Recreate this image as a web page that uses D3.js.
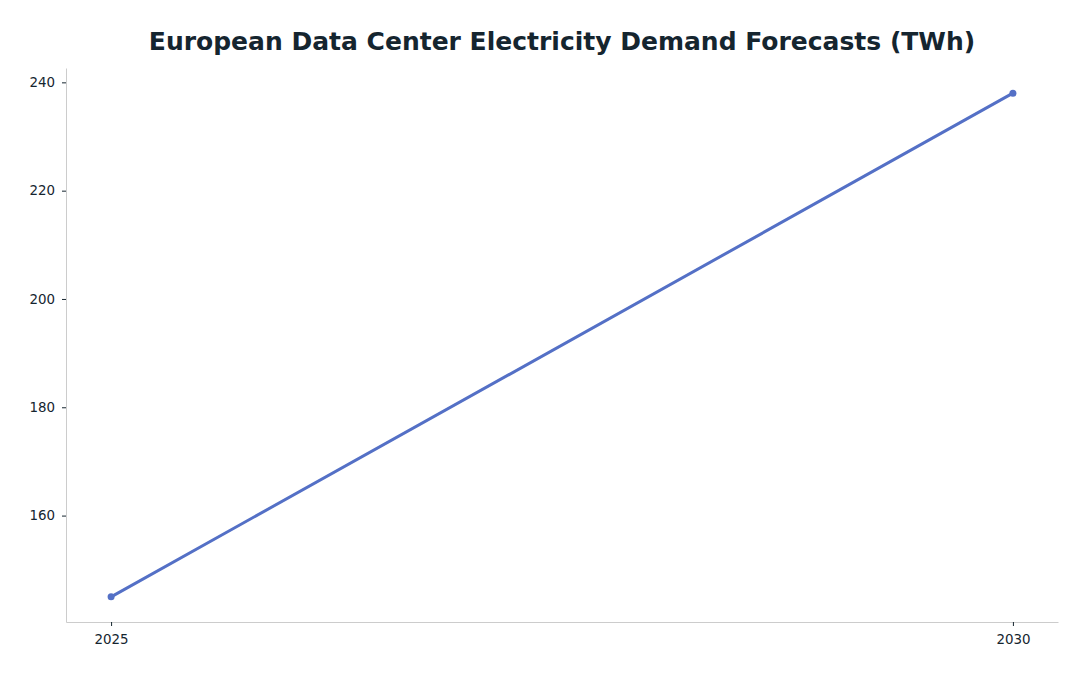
<!DOCTYPE html>
<html><head><meta charset="utf-8">
<script src="https://cdn.jsdelivr.net/npm/d3@7"></script>
<style>
html,body{margin:0;padding:0;background:#fff;}
svg{display:block;font-family:"DejaVu Sans",sans-serif;}
</style></head>
<body>
<svg id="chart" width="1088" height="676"></svg>
<script>
const years = [2025, 2030];
const demandTWh = [145, 238];
const yTicks = [160, 180, 200, 220, 240];
const xTicks = [2025, 2030];
const titleText = "European Data Center Electricity Demand Forecasts (TWh)";

const svg = d3.select("#chart");
const mLeft = 66, mRight = 1058, mTop = 68, mBottom = 622;
const textColor = "#15252f";
const lineColor = "#5470c6";

const xPad = (years[1] - years[0]) * 0.05;
const x = d3.scaleLinear().domain([d3.min(years) - xPad, d3.max(years) + xPad]).range([mLeft, mRight]);
const yr = d3.max(demandTWh) - d3.min(demandTWh);
const y = d3.scaleLinear().domain([d3.min(demandTWh) - yr * 0.05, d3.max(demandTWh) + yr * 0.05]).range([mBottom, mTop]);

svg.append("text").attr("x", (mLeft + mRight) / 2).attr("y", 50)
  .attr("text-anchor", "middle").attr("font-size", 25).attr("font-weight", "bold")
  .attr("fill", textColor).text(titleText);

const xAxis = svg.append("g").attr("transform", `translate(0,${mBottom})`)
  .call(d3.axisBottom(x).tickValues(xTicks).tickFormat(d3.format("d")).tickSize(4).tickPadding(8).tickSizeOuter(0));
const yAxis = svg.append("g").attr("transform", `translate(${mLeft},0)`)
  .call(d3.axisLeft(y).tickValues(yTicks).tickSize(4).tickPadding(7).tickSizeOuter(0));
[xAxis, yAxis].forEach(g => {
  g.select(".domain").attr("stroke", "#cccccc").attr("stroke-width", 1);
  g.selectAll(".tick line").attr("stroke", textColor).attr("stroke-width", 1);
  g.selectAll(".tick text").attr("fill", textColor).attr("font-size", 13.4).attr("font-family", "DejaVu Sans, sans-serif");
});

const data = years.map((yv, i) => ({year: yv, value: demandTWh[i]}));
svg.append("path").datum(data)
  .attr("fill", "none").attr("stroke", lineColor).attr("stroke-width", 3)
  .attr("stroke-linecap", "round")
  .attr("d", d3.line().x(d => x(d.year)).y(d => y(d.value)));
svg.selectAll("circle.pt").data(data).enter().append("circle")
  .attr("class", "pt").attr("cx", d => x(d.year)).attr("cy", d => y(d.value))
  .attr("r", 3.5).attr("fill", lineColor);
</script>
</body></html>
